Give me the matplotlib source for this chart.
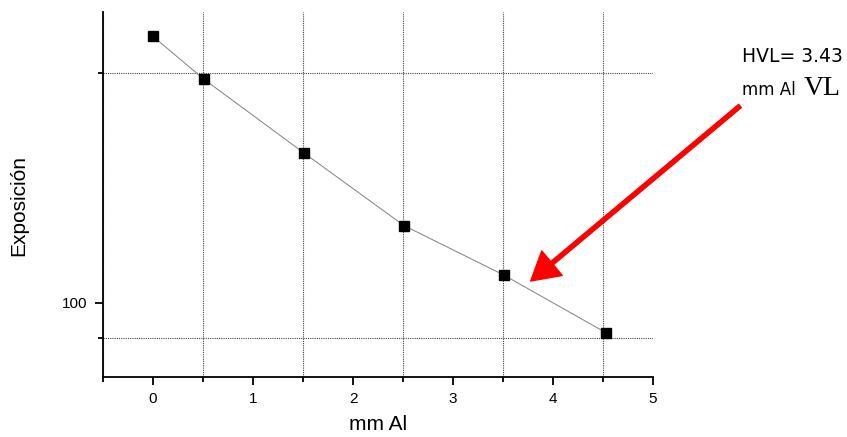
import matplotlib
matplotlib.use("Agg")
import matplotlib.pyplot as plt
from matplotlib.ticker import FixedLocator, MultipleLocator, NullFormatter, FuncFormatter

# espesor de aluminio (mm) y exposicion medida
mm_al = [0, 0.51, 1.51, 2.51, 3.51, 4.53]
exposicion = [223, 196, 157, 126.2, 108.7, 91.4]
hvl_text = "HVL= 3.43"
hvl_x, hvl_y = 3.777, 106.8   # punta de la flecha

plt.rcParams['font.family'] = ['Liberation Sans', 'DejaVu Sans']

fig = plt.figure(figsize=(8.47, 4.37), dpi=100)
ax = fig.add_axes([103/847, 60/437, 550/847, 365/437])

ax.plot(mm_al, exposicion, color='#808080', lw=0.7, marker='s', ms=6.7,
        mfc='black', mec='black', zorder=3)

ax.set_yscale('log')
ax.set_xlim(-0.5, 5)
ax.set_ylim(80, 240)

ax.xaxis.set_major_locator(MultipleLocator(1))
ax.xaxis.set_minor_locator(MultipleLocator(0.5))
ax.yaxis.set_major_locator(FixedLocator([100]))
ax.yaxis.set_major_formatter(FuncFormatter(lambda v, p: '100'))
ax.yaxis.set_minor_locator(FixedLocator([90, 200]))
ax.yaxis.set_minor_formatter(NullFormatter())

ax.grid(which='minor', color='#444444', ls=(0, (1, 1)), lw=0.8)
ax.grid(which='major', visible=False)

for s in ['top', 'right']:
    ax.spines[s].set_visible(False)
for s in ['left', 'bottom']:
    ax.spines[s].set_linewidth(1.3)

ax.tick_params(which='major', direction='out', length=6, width=1.3,
               labelsize=11, pad=5)
ax.tick_params(which='minor', direction='out', length=3.8, width=1.3)

ax.set_xlabel('mm Al', fontsize=15, labelpad=6)
ax.set_ylabel('Exposición', fontsize=15)
ax.yaxis.set_label_coords(-0.136, 0.471)

ax.annotate('', xy=(hvl_x, hvl_y), xycoords='data',
            xytext=(740, 331), textcoords='figure pixels',
            arrowprops=dict(color='red', width=3.0, headwidth=23,
                            headlength=20),
            annotation_clip=False)

fig.text(742/847, (437-62)/437, hvl_text, fontsize=13.5,
         family='DejaVu Sans', va='baseline', ha='left')
fig.text(742/847, (437-95)/437, 'mm Al', fontsize=12,
         family='DejaVu Sans', va='baseline', ha='left')
fig.text(804/847, (437-95)/437, 'VL', fontsize=20,
         family='Liberation Serif', va='baseline', ha='left')

fig.savefig('out.png', dpi=100)
